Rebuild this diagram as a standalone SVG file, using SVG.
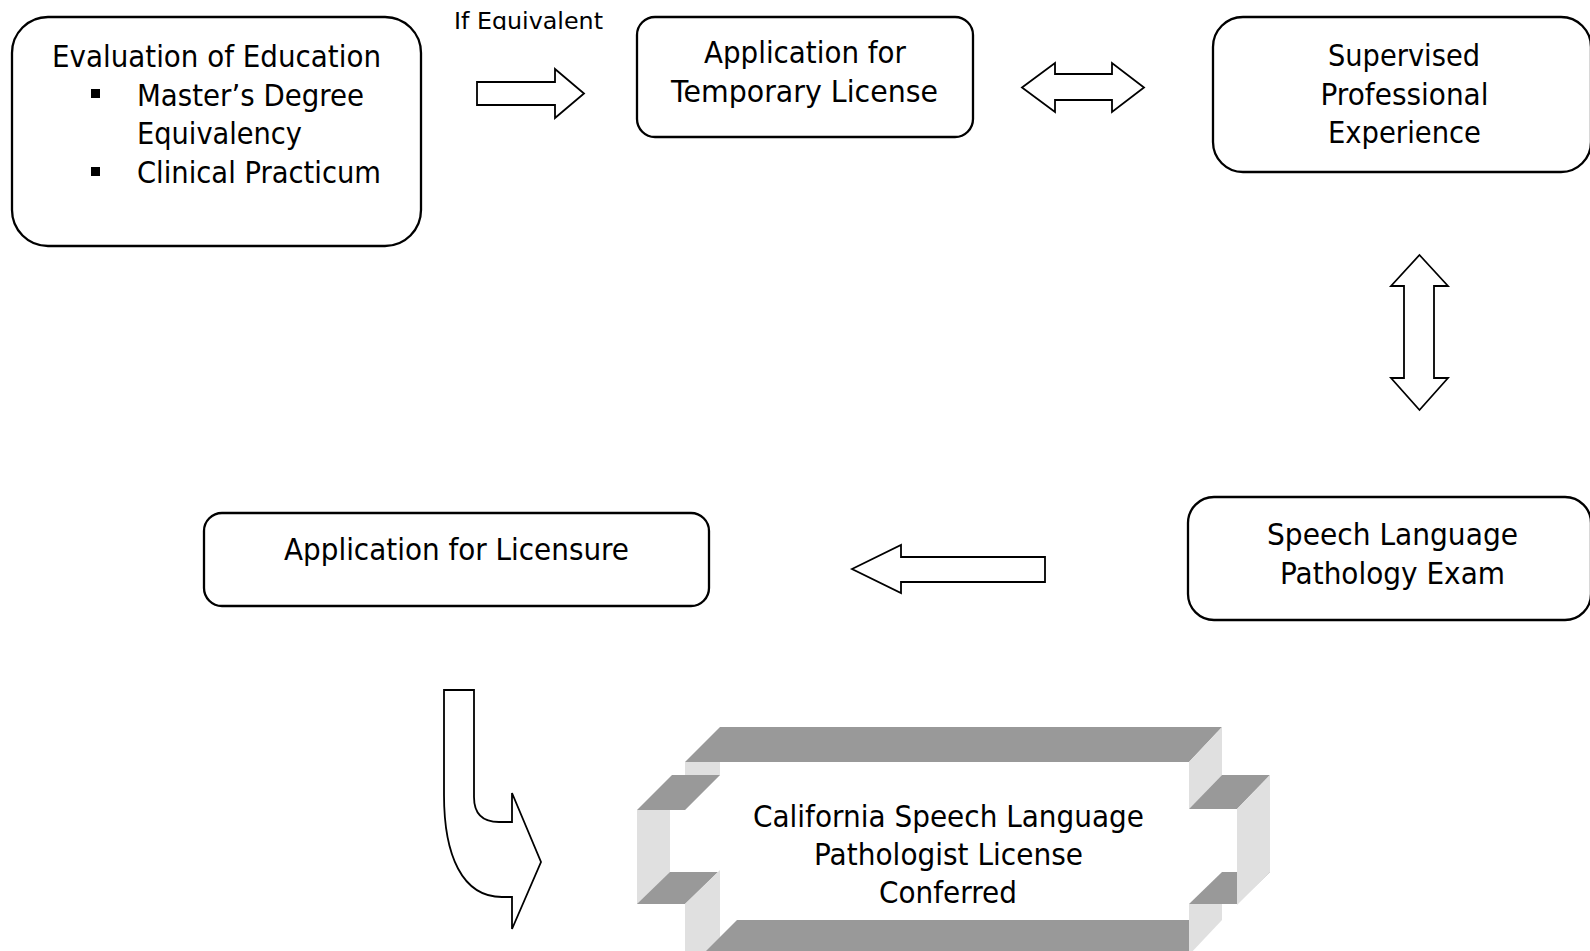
<svg xmlns="http://www.w3.org/2000/svg" width="1590" height="951" viewBox="0 0 1590 951">
<style>
.box{fill:#fff;stroke:#000;stroke-width:2.3}
.arr{fill:#fff;stroke:#000;stroke-width:1.8;stroke-linejoin:miter}
.t{font-family:"DejaVu Sans",Verdana,sans-serif;font-size:31px;fill:#000;text-anchor:middle}
.tl{font-family:"DejaVu Sans",Verdana,sans-serif;font-size:31px;fill:#000}
.small{font-family:"DejaVu Sans",Verdana,sans-serif;font-size:23px;fill:#000}
.dk{fill:#999999}
.lt{fill:#e0e0e0}
</style>
<defs>
<clipPath id="clipIf"><rect x="440" y="0" width="200" height="30"/></clipPath>
</defs>
<rect width="1590" height="951" fill="#fff"/>

<g id="connectors">
  <path id="arrow-right" class="arr" d="M477,82 L555,82 L555,69 L584,93.5 L555,118 L555,105 L477,105 Z"/>
  <path id="arrow-double-h" class="arr" d="M1022,87.5 L1055,63 L1055,74 L1112,74 L1112,63 L1144,87.5 L1112,112 L1112,100 L1055,100 L1055,112 Z"/>
  <path id="arrow-double-v" class="arr" d="M1419.5,255 L1448,286 L1434,286 L1434,378 L1448,378 L1419.5,410 L1391,378 L1404,378 L1404,286 L1391,286 Z"/>
  <path id="arrow-left" class="arr" d="M852,569 L901,545 L901,557 L1045,557 L1045,582 L901,582 L901,593 Z"/>
  <path id="arrow-curved" class="arr" d="M444,690 L474,690 L474,797 Q474,822 499,822 L512,822 L512,793 L541,862 L512,929 L512,897 L502,897 C462,897 444,855 444,795 Z"/>
  <text class="small" x="454" y="28.5" textLength="149" lengthAdjust="spacingAndGlyphs" clip-path="url(#clipIf)">If Equivalent</text>
</g>

<g id="node-evaluation">
  <rect class="box" x="12" y="17" width="409" height="229" rx="36" ry="36"/>
  <text class="t" x="216.5" y="67" textLength="329" lengthAdjust="spacingAndGlyphs">Evaluation of Education</text>
  <rect x="91" y="89" width="9" height="9" fill="#000"/>
  <text class="tl" x="137" y="105.5" textLength="227" lengthAdjust="spacingAndGlyphs">Master’s Degree</text>
  <text class="tl" x="137" y="144" textLength="165" lengthAdjust="spacingAndGlyphs">Equivalency</text>
  <rect x="91" y="167" width="9" height="9" fill="#000"/>
  <text class="tl" x="137" y="182.5" textLength="244" lengthAdjust="spacingAndGlyphs">Clinical Practicum</text>
</g>

<g id="node-temporary">
  <rect class="box" x="637" y="17" width="336" height="120" rx="18" ry="18"/>
  <text class="t" x="805" y="63" textLength="202" lengthAdjust="spacingAndGlyphs">Application for</text>
  <text class="t" x="804.5" y="101.5" textLength="267" lengthAdjust="spacingAndGlyphs">Temporary License</text>
</g>

<g id="node-supervised">
  <rect class="box" x="1213" y="17" width="378" height="155" rx="30" ry="30"/>
  <text class="t" x="1404" y="66" textLength="152" lengthAdjust="spacingAndGlyphs">Supervised</text>
  <text class="t" x="1404.5" y="104.5" textLength="168" lengthAdjust="spacingAndGlyphs">Professional</text>
  <text class="t" x="1404.5" y="143" textLength="153" lengthAdjust="spacingAndGlyphs">Experience</text>
</g>

<g id="node-exam">
  <rect class="box" x="1188" y="497" width="403" height="123" rx="26" ry="26"/>
  <text class="t" x="1392.5" y="545" textLength="251" lengthAdjust="spacingAndGlyphs">Speech Language</text>
  <text class="t" x="1392.5" y="583.5" textLength="225" lengthAdjust="spacingAndGlyphs">Pathology Exam</text>
</g>

<g id="node-licensure">
  <rect class="box" x="204" y="513" width="505" height="93" rx="18" ry="18"/>
  <text class="t" x="456.5" y="559.5" textLength="345" lengthAdjust="spacingAndGlyphs">Application for Licensure</text>
</g>

<g id="node-conferred">
  <polygon class="dk" points="685,762 720,727 1222,727 1189,762"/>
  <polygon class="lt" points="685,762 720,762 720,775 685,810"/>
  <polygon class="dk" points="637,810 672,775 720,775 685,810"/>
  <polygon class="lt" points="637,810 670,810 670,904 637,904"/>
  <polygon class="dk" points="637,904 670,872 718,872 685,904"/>
  <polygon class="lt" points="685,904 720,870 720,951 685,951"/>
  <polygon class="dk" points="702,955 737,920 1189,920 1189,955"/>
  <polygon class="lt" points="1189,762 1222,727 1222,775 1189,809"/>
  <polygon class="dk" points="1189,809 1222,775 1270,775 1237,809"/>
  <polygon class="dk" points="1189,904 1222,872 1270,872 1237,904"/>
  <polygon class="lt" points="1237,809 1270,775 1270,872 1237,905"/>
  <polygon class="lt" points="1189,904 1222,904 1222,920 1189,955"/>
  <text class="t" x="948.5" y="826.5" textLength="391" lengthAdjust="spacingAndGlyphs">California Speech Language</text>
  <text class="t" x="948.5" y="864.5" textLength="269" lengthAdjust="spacingAndGlyphs">Pathologist License</text>
  <text class="t" x="948" y="903" textLength="138" lengthAdjust="spacingAndGlyphs">Conferred</text>
</g>
</svg>
